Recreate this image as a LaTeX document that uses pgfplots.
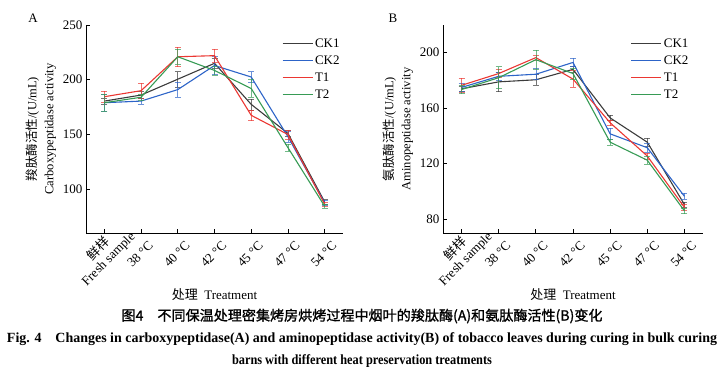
\documentclass[border=0pt]{standalone}
\usepackage{pgfplots}
\pgfplotsset{compat=1.18}
\usepackage{pgfplotstable}
\usepackage{graphicx}
\usepackage{fontspec}
\setmainfont{Liberation Serif}
\newfontfamily\cjk{Noto Sans CJK SC}
\newfontfamily\cjkb{Noto Sans CJK SC}[FakeBold=1.2]

\definecolor{cCK1}{RGB}{60,60,60}
\definecolor{cCK2}{RGB}{45,100,200}
\definecolor{cT1}{RGB}{235,55,50}
\definecolor{cT2}{RGB}{55,155,85}

% Panel A: carboxypeptidase
\pgfplotstableread{
x y e
0 180.5 3
1 186 3
2 200.5 7
3 215 5
4 177.5 5
5 151 3
6 88.5 2
}\ACKa
\pgfplotstableread{
x y e
0 179 8
1 180.5 3
2 191 7
3 213 8
4 202.5 5
5 148 5
6 87.5 2.5
}\ACKb
\pgfplotstableread{
x y e
0 184.5 5
1 190 7
2 221 9
3 222 6
4 167.5 5
5 150 4
6 86.5 2
}\ATa
\pgfplotstableread{
x y e
0 179 8
1 184 3
2 221 7
3 208.5 4
4 192 8
5 138 3
6 84.5 2
}\ATb

% Panel B: aminopeptidase
\pgfplotstableread{
x y e
0 174 2
1 179 7
2 180.5 4
3 188 2
4 153 2
5 135.5 3
6 90.5 2
}\BCKa
\pgfplotstableread{
x y e
0 175 3
1 183 3
2 184.5 4
3 193 3
4 141.5 4
5 131.5 3
6 96.5 2
}\BCKb
\pgfplotstableread{
x y e
0 176.5 5
1 185 3
2 196.5 2
3 181 6
4 149.5 2
5 125.5 2
6 88.5 2
}\BTa
\pgfplotstableread{
x y e
0 173.5 3
1 182 8
2 195 7
3 185 4
4 135.5 2
5 122.5 3
6 86 2
}\BTb

\pgfplotsset{
  eb/.style={line width=1.1pt, no markers,
    error bars/y dir=both, error bars/y explicit,
    error bars/error bar style={line width=0.6pt, opacity=0.7},
    error bars/error mark options={rotate=90, mark size=3pt, line width=0.6pt, opacity=0.7}},
  myaxis/.style={
    scale only axis,
    height=208pt,
    xmin=-0.5, xmax=6.5,
    axis x line*=bottom, axis y line*=left,
    axis line style={black, line width=0.8pt},
    tick align=inside,
    tick style={black, line width=0.8pt},
    major tick length=4pt,
    xtick={0,1,2,3,4,5,6},
    xticklabels={{{\cjk 鲜样}\\Fresh sample},38 °C,40 °C,42 °C,45 °C,47 °C,54 °C},
    xticklabel style={xshift=-1pt, yshift=-21pt, rotate=45, anchor=center, align=center, font=\fontsize{13}{14}\selectfont},
    yticklabel style={font=\fontsize{13}{14}\selectfont},
    /pgf/number format/assume math mode=true,
    xlabel={{\cjk 处理}\ \ Treatment},
    xlabel style={at={(axis description cs:0.5,0)}, anchor=center, yshift=-62pt, font=\fontsize{13}{14}\selectfont},
    ylabel style={align=center, font=\fontsize{12.5}{17}\selectfont},
    legend style={draw=none, fill=none, font=\fontsize{13}{13}\selectfont, row sep=3pt, anchor=north west},
    legend cell align=left,
    legend image code/.code={\draw[#1] (0pt,0pt) -- (30pt,0pt);},
  }
}

\begin{document}
\begin{tikzpicture}
\path[use as bounding box] (0,0) rectangle (725pt,378pt);

\begin{axis}[myaxis, at={(86pt,145pt)}, anchor=south west, width=257pt,
  ymin=60, ymax=250, ytick={100,150,200,250},
  ylabel={{\cjk 羧肽酶活性}/(U/mL)\\Carboxypeptidase activity},
  legend style={at={(0.75,0.955)}}]
\addplot[cCK1, eb] table[x=x,y=y,y error=e]{\ACKa};
\addplot[cCK2, eb] table[x=x,y=y,y error=e]{\ACKb};
\addplot[cT1, eb] table[x=x,y=y,y error=e]{\ATa};
\addplot[cT2, eb] table[x=x,y=y,y error=e]{\ATb};
\legend{CK1,CK2,T1,T2}
\end{axis}

\begin{axis}[myaxis, at={(443pt,145pt)}, anchor=south west, width=260pt,
  ymin=70, ymax=220, ytick={80,120,160,200},
  ylabel={{\cjk 氨肽酶活性}/(U/mL)\\Aminopeptidase activity},
  legend style={at={(0.71,0.955)}}]
\addplot[cCK1, eb] table[x=x,y=y,y error=e]{\BCKa};
\addplot[cCK2, eb] table[x=x,y=y,y error=e]{\BCKb};
\addplot[cT1, eb] table[x=x,y=y,y error=e]{\BTa};
\addplot[cT2, eb] table[x=x,y=y,y error=e]{\BTb};
\legend{CK1,CK2,T1,T2}
\end{axis}

\node[font=\fontsize{13}{13}\selectfont] at (33pt,360pt) {A};
\node[font=\fontsize{13}{13}\selectfont] at (393pt,360pt) {B};

\node at (362pt,62pt) {\resizebox{481pt}{\height}{\cjkb\fontsize{14}{15}\selectfont 图4\quad 不同保温处理密集烤房烘烤过程中烟叶的羧肽酶(A)和氨肽酶活性(B)变化}};
\node at (362pt,39pt) {\resizebox{710pt}{\height}{\bfseries\fontsize{14}{15}\selectfont Fig. 4\quad Changes in carboxypeptidase(A) and aminopeptidase activity(B) of tobacco leaves during curing in bulk curing}};
\node at (362pt,17pt) {\resizebox{260pt}{\height}{\bfseries\fontsize{14}{15}\selectfont barns with different heat preservation treatments}};
\end{tikzpicture}
\end{document}
